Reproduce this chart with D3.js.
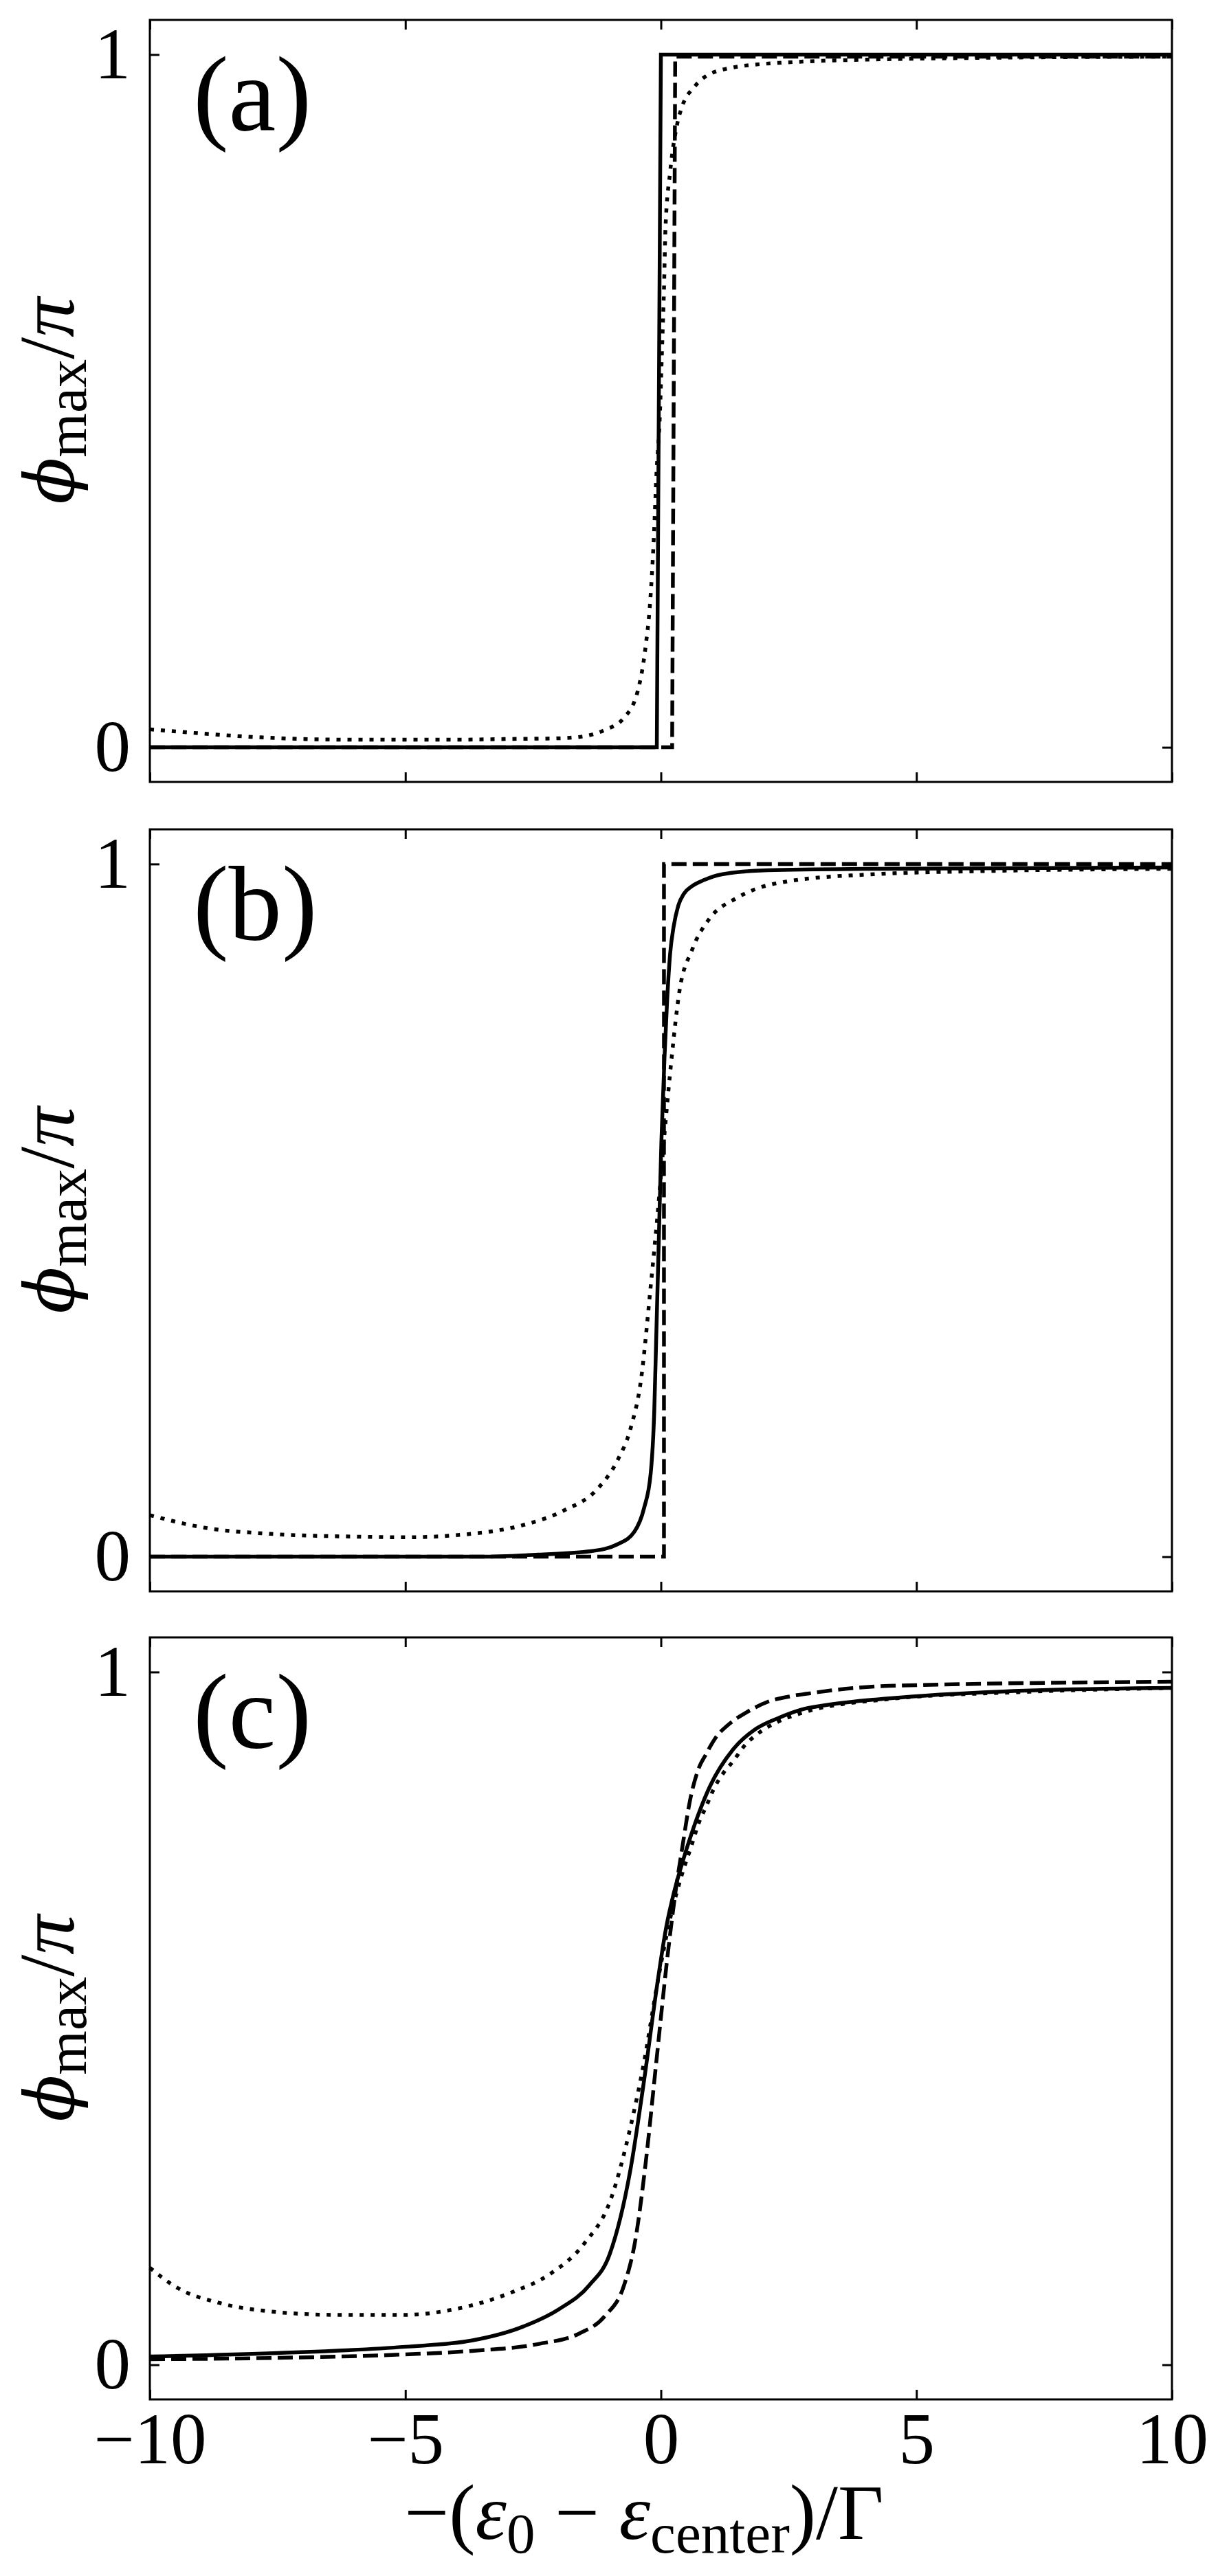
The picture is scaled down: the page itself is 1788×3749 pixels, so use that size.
<!DOCTYPE html>
<html>
<head>
<meta charset="utf-8">
<script src="https://cdn.jsdelivr.net/npm/d3@7"></script>
<style>
  body { margin: 0; background: #fff; }
</style>
</head>
<body>
<div id="graph"></div>
<script>
const w = 1788;
const h = 3749;
const serif = "'Liberation Serif', 'Times New Roman', Tinos, 'DejaVu Serif', serif";

// axis ticks
const xTicks = [-10, -5, 0, 5, 10];
const xTickLabels = ['\u221210', '\u22125', '0', '5', '10'];
const yTicks = [0, 1];
const yTickLabels = ['0', '1'];
const panelNames = ['(a)', '(b)', '(c)'];

// series: [x, phi_max/pi]
const aSolid = [[-10, 0], [-0.08, 0], [0.0, 1], [10, 1]];
const aDashed = [[-10, 0], [0.22, 0], [0.28, 0.997], [10, 0.997]];
const aDotted = [[-10, 0.026], [-9, 0.02], [-8, 0.015], [-7, 0.012], [-6, 0.011], [-5, 0.011], [-4, 0.011],
  [-3, 0.012], [-2, 0.013], [-1.5, 0.016], [-1.1, 0.025], [-0.73, 0.042], [-0.45, 0.082], [-0.3, 0.145],
  [-0.21, 0.21], [-0.14, 0.30], [-0.09, 0.39], [-0.02, 0.48], [0.02, 0.57], [0.06, 0.66], [0.09, 0.75],
  [0.18, 0.83], [0.32, 0.9], [0.42, 0.926], [0.65, 0.953], [1.19, 0.978], [2.3, 0.988], [5, 0.994], [10, 0.997]];

const bSolid = [[-10, 0], [-3.5, 0], [-2.4, 0.003], [-1.37, 0.008], [-0.85, 0.018], [-0.52, 0.036], [-0.33, 0.07],
  [-0.2, 0.12], [-0.13, 0.21], [-0.09, 0.32], [-0.04, 0.46], [0.01, 0.6], [0.07, 0.72], [0.12, 0.8], [0.18, 0.87],
  [0.25, 0.91], [0.34, 0.94], [0.45, 0.957], [0.61, 0.968], [0.85, 0.977], [1.19, 0.985], [2.09, 0.991],
  [4, 0.993], [10, 0.995]];
const bDashed = [[-10, 0], [0.06, 0], [0.06, 1], [10, 1]];
const bDotted = [[-10, 0.06], [-8.94, 0.042], [-7.64, 0.033], [-6, 0.029], [-5, 0.028], [-3.72, 0.033],
  [-2.68, 0.046], [-1.89, 0.067], [-1.24, 0.098], [-0.85, 0.139], [-0.59, 0.186], [-0.39, 0.255], [-0.2, 0.39],
  [-0.07, 0.49], [0.07, 0.61], [0.21, 0.72], [0.36, 0.815], [0.61, 0.876], [0.96, 0.922], [1.46, 0.95],
  [1.9, 0.965], [2.49, 0.975], [4.1, 0.985], [6.5, 0.99], [10, 0.993]];

const cSolid = [[-10, 0.012], [-7.5, 0.017], [-5, 0.026], [-3.7, 0.035], [-2.7, 0.055], [-2.0, 0.08], [-1.4, 0.115],
  [-1.0, 0.16], [-0.6, 0.28], [-0.33, 0.41], [-0.07, 0.55], [0.1, 0.63], [0.25, 0.68], [0.4, 0.72], [0.61, 0.769],
  [0.96, 0.835], [1.41, 0.888], [1.86, 0.918], [2.31, 0.934], [2.76, 0.946], [3.21, 0.952], [4.46, 0.962],
  [6.7, 0.972], [10, 0.977]];
const cDashed = [[-10, 0.008], [-7.5, 0.01], [-5, 0.015], [-3.7, 0.02], [-2.4, 0.03], [-1.6, 0.045], [-1.1, 0.07],
  [-0.72, 0.115], [-0.5, 0.18], [-0.3, 0.29], [-0.1, 0.43], [0.13, 0.59], [0.3, 0.69], [0.43, 0.752], [0.56, 0.811],
  [0.74, 0.861], [0.88, 0.881], [1.06, 0.904], [1.32, 0.924], [1.68, 0.942], [2.09, 0.957], [2.54, 0.965],
  [2.98, 0.97], [4.46, 0.98], [10, 0.986]];
const cDotted = [[-10, 0.14], [-9.46, 0.111], [-8.68, 0.09], [-7.64, 0.077], [-6.33, 0.072], [-5.03, 0.072],
  [-3.98, 0.081], [-2.94, 0.104], [-2.15, 0.132], [-1.5, 0.175], [-0.98, 0.239], [-0.59, 0.345], [-0.33, 0.437],
  [-0.07, 0.55], [0.2, 0.65], [0.4, 0.705], [0.61, 0.752], [0.74, 0.782], [0.88, 0.805], [1.06, 0.835],
  [1.23, 0.855], [1.41, 0.871], [1.64, 0.894], [1.86, 0.909], [2.31, 0.929], [2.76, 0.941], [4.46, 0.961],
  [7, 0.971], [10, 0.977]];

const panelSeries = [
  [aSolid, aDashed, aDotted],
  [bSolid, bDashed, bDotted],
  [cSolid, cDashed, cDotted]
];
const seriesStyles = ['solid', 'dashed', 'dotted'];

const plotLeft = 218, plotRight = 1705;
const panelTops = [29, 1207, 2383];
const panelH = 1109;
const tickLen = 14;

const svg = d3.select('#graph')
  .append('svg')
  .attr('width', w)
  .attr('height', h)
  .attr('viewBox', '0 0 ' + w + ' ' + h)
  .attr('font-family', serif);

svg.append('rect').attr('width', w).attr('height', h).attr('fill', '#fff');

const xScale = d3.scaleLinear().domain([-10, 10]).range([plotLeft, plotRight]);

panelSeries.forEach((series, i) => {
  const top = panelTops[i];
  const bottom = top + panelH;
  const yScale = d3.scaleLinear().domain([-0.05, 1.05]).range([bottom, top]);
  const g = svg.append('g').attr('class', 'panel');

  // curves
  series.forEach((pts, k) => {
    const step = pts.length <= 4;
    const line = d3.line()
      .x(d => xScale(d[0]))
      .y(d => yScale(d[1]))
      .curve(step ? d3.curveLinear : d3.curveMonotoneX);
    const path = g.append('path')
      .datum(pts)
      .attr('d', line)
      .attr('fill', 'none')
      .attr('stroke', '#000')
      .attr('stroke-width', 5.5)
      .attr('stroke-linejoin', 'miter');
    if (seriesStyles[k] == 'dashed') path.attr('stroke-dasharray', '22,9');
    if (seriesStyles[k] == 'dotted') path.attr('stroke-dasharray', '6,10');
  });

  // axes, ticks pointing inward
  const xBottom = d3.axisBottom(xScale).tickValues(xTicks).tickSizeInner(-tickLen).tickSizeOuter(0)
    .tickPadding(18).tickFormat((d, j) => i == 2 ? xTickLabels[j] : '');
  const xTop = d3.axisTop(xScale).tickValues(xTicks).tickSizeInner(-tickLen).tickSizeOuter(0).tickFormat('');
  const yLeft = d3.axisLeft(yScale).tickValues(yTicks).tickSizeInner(-tickLen).tickSizeOuter(0)
    .tickPadding(28).tickFormat((d, j) => yTickLabels[j]);
  const yRight = d3.axisRight(yScale).tickValues(yTicks).tickSizeInner(-tickLen).tickSizeOuter(0).tickFormat('');

  const axes = [
    g.append('g').attr('transform', 'translate(0,' + bottom + ')').call(xBottom),
    g.append('g').attr('transform', 'translate(0,' + top + ')').call(xTop),
    g.append('g').attr('transform', 'translate(' + plotLeft + ',0)').call(yLeft),
    g.append('g').attr('transform', 'translate(' + plotRight + ',0)').call(yRight)
  ];
  axes.forEach(a => {
    a.attr('font-family', serif).attr('font-size', 105);
    a.select('.domain').remove();
    a.selectAll('line').attr('stroke', '#000').attr('stroke-width', 3);
    a.selectAll('text').attr('fill', '#000');
  });

  // frame
  g.append('rect')
    .attr('x', plotLeft).attr('y', top)
    .attr('width', plotRight - plotLeft).attr('height', panelH)
    .attr('fill', 'none').attr('stroke', '#000').attr('stroke-width', 3);

  // panel label
  g.append('text')
    .attr('x', 281).attr('y', top + 160)
    .attr('font-family', serif)
    .attr('font-size', 155)
    .text(panelNames[i]);

  // y label: phi_max / pi  (stroked phi, as in the original)
  const yl = g.append('text')
    .attr('transform', 'translate(107,' + (top + panelH / 2) + ') rotate(-90)')
    .attr('text-anchor', 'middle')
    .attr('font-family', serif)
    .attr('font-size', 115);
  yl.append('tspan').attr('font-style', 'italic')
    .attr('font-family', "'DejaVu Serif', serif").attr('font-size', 100).text('\u03D5');
  yl.append('tspan').attr('dy', 18).attr('font-size', 83).text('max');
  yl.append('tspan').attr('dy', -18).text('/');
  yl.append('tspan').attr('font-style', 'italic').text('\u03C0');
});

// x label: -(eps_0 - eps_center)/Gamma
const xl = svg.append('text')
  .attr('x', 937).attr('y', 3695)
  .attr('text-anchor', 'middle')
  .attr('font-family', serif)
  .attr('font-size', 115);
xl.append('tspan').text('\u2212(');
xl.append('tspan').attr('font-style', 'italic').text('\u03B5');
xl.append('tspan').attr('dy', 20).attr('font-size', 83).text('0');
xl.append('tspan').attr('dy', -20).text('\u00A0\u2212\u00A0');
xl.append('tspan').attr('font-style', 'italic').text('\u03B5');
xl.append('tspan').attr('dy', 20).attr('font-size', 83).text('center');
xl.append('tspan').attr('dy', -20).text(')/\u0393');
</script>
</body>
</html>
